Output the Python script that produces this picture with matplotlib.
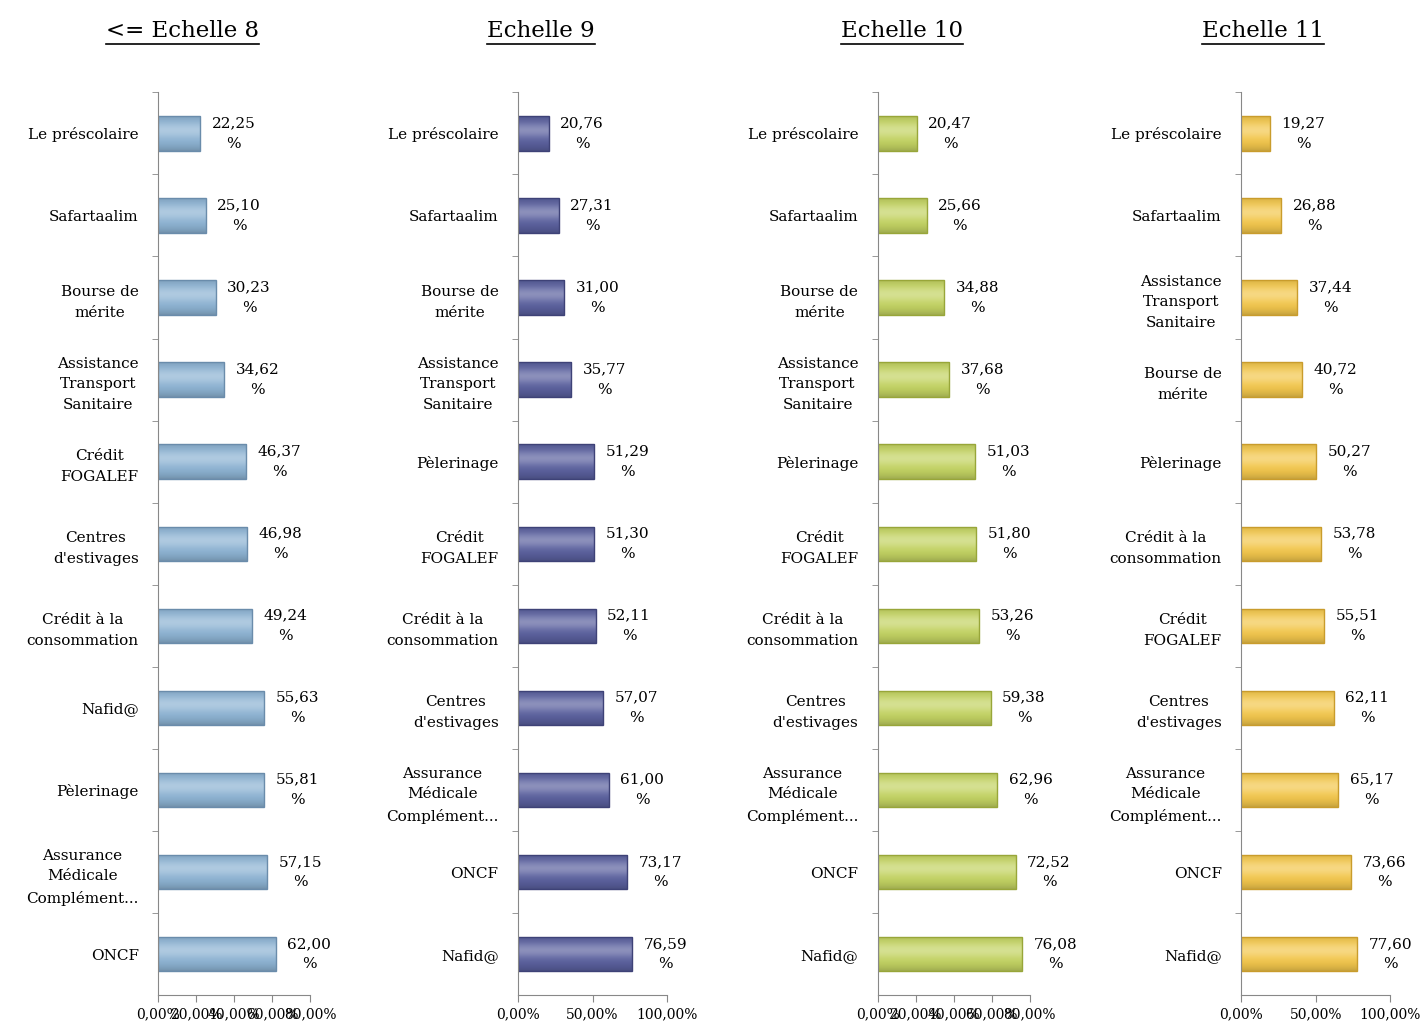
import numpy as np
import matplotlib.pyplot as plt
from matplotlib.colors import to_rgb
from matplotlib.lines import Line2D

plt.rcParams['font.family'] = ['DejaVu Serif']

# -----------------------------------------------------------------------------
# Data (top to bottom in each panel)
# -----------------------------------------------------------------------------
titles = ["<= Echelle 8", "Echelle 9", "Echelle 10", "Echelle 11"]

cats_e8 = ["Le préscolaire", "Safartaalim", "Bourse de\nmérite",
           "Assistance\nTransport\nSanitaire", "Crédit\nFOGALEF",
           "Centres\nd'estivages", "Crédit à la\nconsommation", "Nafid@",
           "Pèlerinage", "Assurance\nMédicale\nComplément...", "ONCF"]
vals_e8 = [22.25, 25.10, 30.23, 34.62, 46.37, 46.98, 49.24, 55.63, 55.81, 57.15, 62.00]

cats_e9 = ["Le préscolaire", "Safartaalim", "Bourse de\nmérite",
           "Assistance\nTransport\nSanitaire", "Pèlerinage", "Crédit\nFOGALEF",
           "Crédit à la\nconsommation", "Centres\nd'estivages",
           "Assurance\nMédicale\nComplément...", "ONCF", "Nafid@"]
vals_e9 = [20.76, 27.31, 31.00, 35.77, 51.29, 51.30, 52.11, 57.07, 61.00, 73.17, 76.59]

cats_e10 = ["Le préscolaire", "Safartaalim", "Bourse de\nmérite",
            "Assistance\nTransport\nSanitaire", "Pèlerinage", "Crédit\nFOGALEF",
            "Crédit à la\nconsommation", "Centres\nd'estivages",
            "Assurance\nMédicale\nComplément...", "ONCF", "Nafid@"]
vals_e10 = [20.47, 25.66, 34.88, 37.68, 51.03, 51.80, 53.26, 59.38, 62.96, 72.52, 76.08]

cats_e11 = ["Le préscolaire", "Safartaalim", "Assistance\nTransport\nSanitaire",
            "Bourse de\nmérite", "Pèlerinage", "Crédit à la\nconsommation",
            "Crédit\nFOGALEF", "Centres\nd'estivages",
            "Assurance\nMédicale\nComplément...", "ONCF", "Nafid@"]
vals_e11 = [19.27, 26.88, 37.44, 40.72, 50.27, 53.78, 55.51, 62.11, 65.17, 73.66, 77.60]

x_max = [80, 100, 80, 100]
x_ticks = [[0, 20, 40, 60, 80], [0, 50, 100], [0, 20, 40, 60, 80], [0, 50, 100]]

# -----------------------------------------------------------------------------
# Styling
# -----------------------------------------------------------------------------
colors = ["#8db3d3", "#5a609e", "#c3d362", "#f3c74c"]
edges = ["#6a8cab", "#3e4277", "#98a639", "#c99c2c"]
axes_left = [0.111, 0.3635, 0.616, 0.871]
axes_width = [0.1067, 0.1046, 0.1067, 0.1046]


def gradient_colors(base, n=40):
    # darker at top and bottom, lighter band a bit above the middle
    c = np.array(to_rgb(base))
    t = np.linspace(0, 1, n)
    light = np.exp(-((t - 0.4) / 0.22) ** 2) * 0.30
    dark = (np.abs(t - 0.45) ** 3) * 1.1
    out = c[None, :] * (1 - dark[:, None]) + (1 - c[None, :]) * light[:, None]
    return np.clip(out, 0, 1)[:, None, :]


fig = plt.figure(figsize=(14.25, 10.26), dpi=100)

panels = [(cats_e8, vals_e8), (cats_e9, vals_e9), (cats_e10, vals_e10), (cats_e11, vals_e11)]

for k, (cats, vals) in enumerate(panels):
    ax = fig.add_axes([axes_left[k], 0.030, axes_width[k], 0.880])
    n = len(cats)
    pos = list(range(n))
    bars = ax.barh(pos, vals, height=0.42, color=colors[k], edgecolor=edges[k], linewidth=1.0)

    grad = gradient_colors(colors[k])
    for b in bars:
        x0, y0, w, h = b.get_x(), b.get_y(), b.get_width(), b.get_height()
        im = ax.imshow(grad, extent=[x0, x0 + w, y0 + h, y0], aspect='auto',
                       interpolation='bilinear', zorder=b.get_zorder() + 0.1)
        im.set_clip_path(b)
        b.set_facecolor('none')
        b.set_zorder(b.get_zorder() + 0.2)

    ax.set_ylim(n - 0.5, -0.5)
    ax.set_xlim(0, x_max[k])

    ax.set_yticks(pos)
    ax.set_yticklabels(cats, fontsize=11, multialignment='center', linespacing=1.6)
    ax.tick_params(axis='y', length=0, pad=14)
    ax.set_yticks([p + 0.5 for p in pos[:-1]] + [-0.5], minor=True)
    ax.tick_params(axis='y', which='minor', length=4, color='#888888')

    ax.set_xticks(x_ticks[k])
    ax.set_xticklabels([f"{t:.2f}%".replace('.', ',') for t in x_ticks[k]], fontsize=10)
    ax.tick_params(axis='x', length=5, color='#888888')

    for s in ['top', 'right']:
        ax.spines[s].set_visible(False)
    for s in ['left', 'bottom']:
        ax.spines[s].set_color('#888888')

    for p, v in zip(pos, vals):
        ax.annotate(f"{v:.2f}".replace('.', ',') + "\n%", xy=(v, p), xytext=(24, 0),
                    textcoords='offset points', ha='center', va='center',
                    fontsize=11, linespacing=1.6, annotation_clip=False)

# titles with underline
title_x = [182, 541, 902, 1263]
fig.canvas.draw()
renderer = fig.canvas.get_renderer()
for k, t in enumerate(titles):
    txt = fig.text(title_x[k] / 1425, 1 - 31 / 1026, t, ha='center', va='center', fontsize=16.5)
    bb = txt.get_window_extent(renderer=renderer)
    y_line = (bb.y0 - 2) / fig.bbox.height
    fig.add_artist(Line2D([bb.x0 / fig.bbox.width, bb.x1 / fig.bbox.width], [y_line, y_line],
                          color='black', linewidth=1.2))

fig.savefig('out.png', dpi=100)
